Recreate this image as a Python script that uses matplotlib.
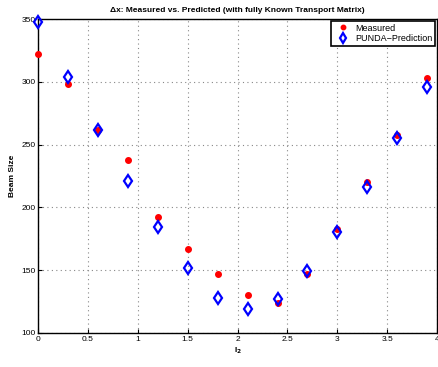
import matplotlib
matplotlib.use("Agg")
import matplotlib.pyplot as plt

plt.rcParams['font.family'] = ['Liberation Sans', 'DejaVu Sans']

i2 = [0.0, 0.3, 0.6, 0.9, 1.2, 1.5, 1.8, 2.1, 2.4, 2.7, 3.0, 3.3, 3.6, 3.9]
measured = [322, 298, 262, 238, 192, 167, 147, 130, 124, 147, 183, 220, 258, 303]
predicted = [348, 304, 262, 221, 184, 152, 128, 119, 127, 149, 180, 216, 255, 296]

fig = plt.figure(figsize=(4.38, 3.67), dpi=100)
ax = fig.add_axes([0.087, 0.093, 0.911, 0.855])

ax.plot(i2, measured, 'o', color='red', markersize=4, label='Measured', clip_on=False, zorder=3)
ax.plot(i2, predicted, 'd', color='blue', markerfacecolor='none', markersize=6.5,
        markeredgewidth=1.6, label='PUNDA\u2212Prediction', clip_on=False, zorder=4)

ax.set_xlim(0, 4)
ax.set_ylim(100, 350)
ax.set_xticks([0, 0.5, 1, 1.5, 2, 2.5, 3, 3.5, 4])
ax.set_xticklabels(['0', '0.5', '1', '1.5', '2', '2.5', '3', '3.5', '4'])
ax.set_yticks([100, 150, 200, 250, 300, 350])
ax.tick_params(direction='in', labelsize=6, length=3, pad=2)
ax.grid(True, linestyle=(0, (1, 3)), color='#888888', linewidth=0.8)
for s in ax.spines.values():
    s.set_linewidth(1.0)

ax.set_xlabel('I$_\\mathbf{2}$', fontsize=6, fontweight='bold', labelpad=2)
ax.set_ylabel('Beam Size', fontsize=6, fontweight='bold', labelpad=4)
ax.set_title('\u0394x: Measured vs. Predicted (with fully Known Transport Matrix)',
             fontsize=6, fontweight='bold', pad=5)

leg = ax.legend(loc='upper right', fontsize=6.5, fancybox=False, framealpha=1,
                edgecolor='black', borderpad=0.3, handletextpad=0.4, labelspacing=0.2,
                borderaxespad=0.2, markerscale=0.8)
leg.get_frame().set_linewidth(1.2)

fig.savefig('out.png', dpi=100)
